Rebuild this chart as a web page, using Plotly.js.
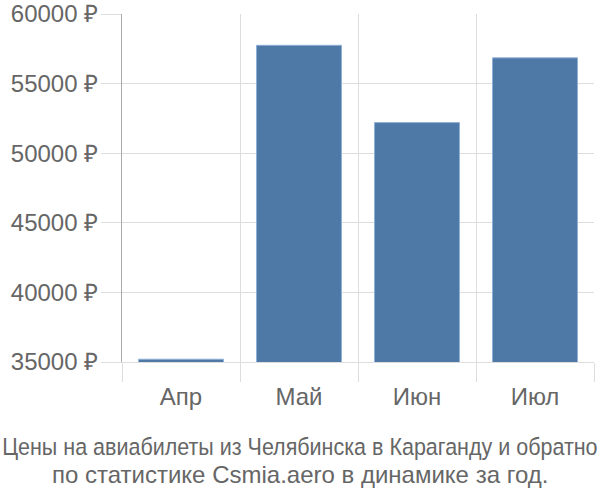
<!DOCTYPE html>
<html><head><meta charset="utf-8">
<script src="https://cdn.plot.ly/plotly-3.0.1.min.js"></script>
<style>body{margin:0}#c{width:600px;height:500px}</style>
</head><body><div id="c"></div>
<script>
const months = ["Апр", "Май", "Июн", "Июл"];
const prices = [35200, 57750, 52200, 56850];
const yTicks = [35000, 40000, 45000, 50000, 55000, 60000];
const yTickText = yTicks.map(v => v + " ₽");
const titleLines = ["Цены на авиабилеты из Челябинска в Караганду и обратно",
                    "по статистике Csmia.aero в динамике за год."];

const pageCenter = (300 - 122) / 472;

function stretch() {
  // the reference draws the long first title line narrower than its height suggests
  const ts = document.querySelectorAll('#c .annotation-text');
  if (!ts.length) return;
  const t = ts[0];
  t.style.transformBox = "fill-box";
  t.style.transformOrigin = "center";
  t.style.transform = "scaleY(1.11)";
}

Plotly.newPlot("c", [{
  type: "bar", x: months, y: prices,
  marker: {color: "#4e79a7", line: {color: "#8fb0d6", width: 1}},
  width: 0.72, hoverinfo: "none"
}], {
  width: 600, height: 500,
  margin: {l: 122, r: 6, t: 14, b: 138},
  paper_bgcolor: "#fff", plot_bgcolor: "#fff",
  font: {family: "Liberation Sans, Arial, sans-serif", color: "#666", size: 24},
  showlegend: false,
  annotations: [
    {text: titleLines[0], xref: "paper", yref: "paper", x: pageCenter, xanchor: "center",
     y: -0.245, yanchor: "middle", showarrow: false, font: {size: 21.5, color: "#666"}},
    {text: titleLines[1], xref: "paper", yref: "paper", x: pageCenter, xanchor: "center",
     y: -0.323, yanchor: "middle", showarrow: false, font: {size: 24, color: "#666"}}
  ],
  xaxis: {
    type: "category", tickson: "boundaries", ticks: "outside", ticklen: 19,
    tickcolor: "#ddd", showgrid: true, gridcolor: "#ddd", gridwidth: 1,
    showline: true, linecolor: "#ddd", tickfont: {size: 24, color: "#666"},
    ticklabelstandoff: 13, fixedrange: true
  },
  yaxis: {
    range: [35000, 60000], tickmode: "array", tickvals: yTicks, ticktext: yTickText,
    ticks: "outside", ticklen: 20, tickcolor: "#ddd",
    showgrid: true, gridcolor: "#ddd", showline: true, linecolor: "#aaa",
    zeroline: false, tickfont: {size: 24, color: "#666"}, ticklabelstandoff: -2,
    fixedrange: true
  }
}, {staticPlot: true}).then(() => { stretch(); setTimeout(stretch, 50); });
</script></body></html>
